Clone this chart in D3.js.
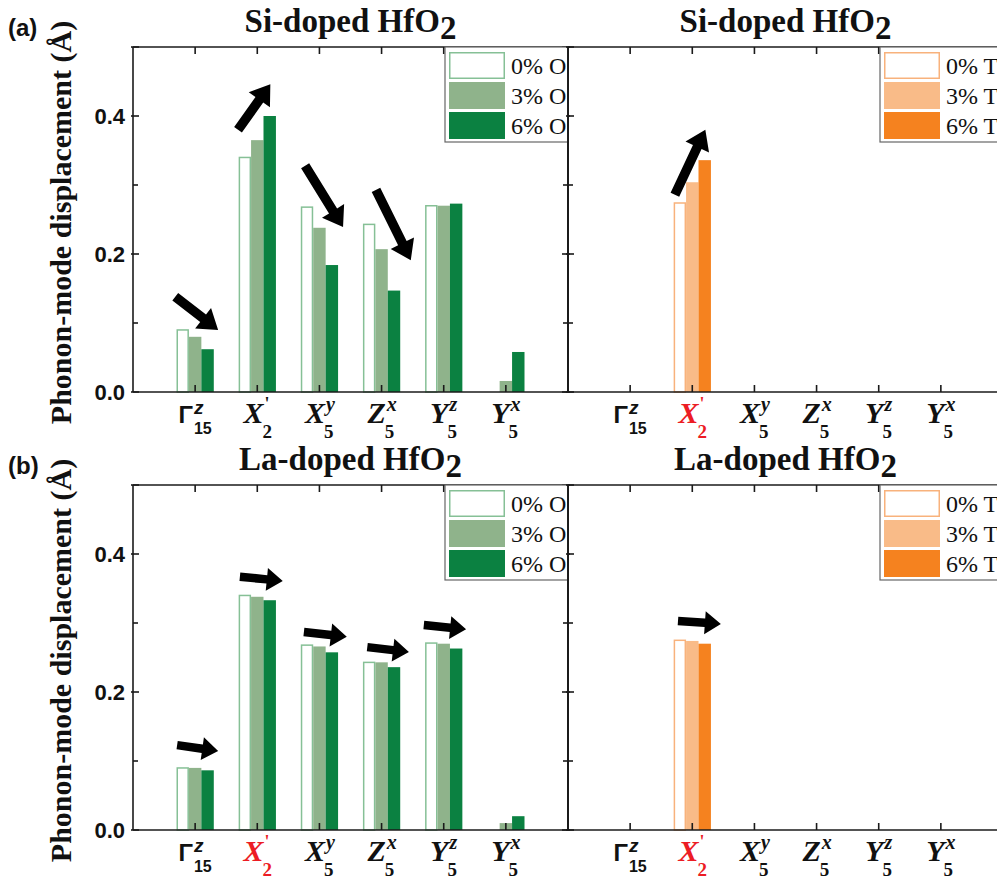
<!DOCTYPE html>
<html>
<head>
<meta charset="utf-8">
<script src="https://cdn.jsdelivr.net/npm/d3@7"></script>
<style>
  html, body { margin: 0; padding: 0; background: #fff; }
  svg { display: block; }
</style>
</head>
<body>
<script>
// ---------- DATA ----------
const modeMain = ["Γ", "X", "X", "Z", "Y", "Y"];
const modeSup  = ["z", "'", "y", "x", "z", "x"];
const modeSub  = ["15", "2", "5", "5", "5", "5"];
const seriesLabels = ["0%", "3%", "6%"];
const yTicks = [0, 0.2, 0.4];
const yMinorTicks = [0.1, 0.3];

// Si-doped, O-series (values per series: 0%, 3%, 6%)
const siO_0 = [0.091, 0.341, 0.269, 0.244, 0.271, 0.0];
const siO_3 = [0.080, 0.365, 0.238, 0.207, 0.270, 0.016];
const siO_6 = [0.062, 0.400, 0.184, 0.147, 0.273, 0.058];
// Si-doped, T-series
const siT_0 = [0, 0.275, 0, 0, 0, 0];
const siT_3 = [0, 0.304, 0, 0, 0, 0];
const siT_6 = [0, 0.336, 0, 0, 0, 0];
// La-doped, O-series
const laO_0 = [0.091, 0.341, 0.269, 0.244, 0.272, 0.0];
const laO_3 = [0.090, 0.338, 0.266, 0.243, 0.270, 0.010];
const laO_6 = [0.0865, 0.333, 0.2575, 0.236, 0.263, 0.020];
// La-doped, T-series
const laT_0 = [0, 0.276, 0, 0, 0, 0];
const laT_3 = [0, 0.274, 0, 0, 0, 0];
const laT_6 = [0, 0.270, 0, 0, 0, 0];

// Arrow annotations: [x1, y1, x2, y2] in data units (category axis, Å)
const arrowsSiO = [[0.68, 0.138, 1.37, 0.090], [1.69, 0.380, 2.21, 0.446], [2.77, 0.328, 3.38, 0.239], [3.91, 0.293, 4.47, 0.191]];
const arrowsSiT = [[1.72, 0.286, 2.21, 0.380]];
const arrowsLaO = [[0.71, 0.123, 1.37, 0.1145], [1.72, 0.367, 2.41, 0.361], [2.75, 0.287, 3.44, 0.280], [3.77, 0.265, 4.44, 0.258], [4.68, 0.297, 5.36, 0.291]];
const arrowsLaT = [[1.77, 0.303, 2.46, 0.2986]];

const greenColors = { stroke0: "#86c096", fill3: "#8fb38b", fill6: "#0b8141" };
const orangeColors = { stroke0: "#f8b27c", fill3: "#f9bb88", fill6: "#f5821f" };

// ---------- LAYOUT ----------
const W = 997, H = 882;
const PW = 435, PH = 345;
const panels = [
  { left: 133, top: 47, title: "Si-doped HfO", vals: [siO_0, siO_3, siO_6], suffix: "O", col: greenColors, arrows: arrowsSiO, redX: false, yLabels: true },
  { left: 568, top: 47, title: "Si-doped HfO", vals: [siT_0, siT_3, siT_6], suffix: "T", col: orangeColors, arrows: arrowsSiT, redX: true, yLabels: false },
  { left: 133, top: 485, title: "La-doped HfO", vals: [laO_0, laO_3, laO_6], suffix: "O", col: greenColors, arrows: arrowsLaO, redX: true, yLabels: true },
  { left: 568, top: 485, title: "La-doped HfO", vals: [laT_0, laT_3, laT_6], suffix: "T", col: orangeColors, arrows: arrowsLaT, redX: true, yLabels: false }
];

const svg = d3.select("body").append("svg").attr("width", W).attr("height", H);
svg.append("rect").attr("width", W).attr("height", H).attr("fill", "#fff");

const AX = "#1a1a1a";
const serif = "'Liberation Serif', 'Times New Roman', serif";
const sans = "'Liberation Sans', Arial, sans-serif";

function arrowPath(x1, y1, x2, y2, shaftW, headL, headW) {
  const dx = x2 - x1, dy = y2 - y1;
  const L = Math.hypot(dx, dy);
  const ux = dx / L, uy = dy / L;
  const px = -uy, py = ux;
  const bx = x2 - ux * headL, by = y2 - uy * headL;
  const pts = [
    [x1 + px * shaftW / 2, y1 + py * shaftW / 2],
    [bx + px * shaftW / 2, by + py * shaftW / 2],
    [bx + px * headW / 2, by + py * headW / 2],
    [x2, y2],
    [bx - px * headW / 2, by - py * headW / 2],
    [bx - px * shaftW / 2, by - py * shaftW / 2],
    [x1 - px * shaftW / 2, y1 - py * shaftW / 2]
  ];
  return "M" + pts.map(p => p[0].toFixed(2) + "," + p[1].toFixed(2)).join("L") + "Z";
}

panels.forEach((p, pi) => {
  const x = d3.scaleLinear().domain([0, 7]).range([p.left, p.left + PW]);
  const y = d3.scaleLinear().domain([0, 0.5]).range([p.top + PH, p.top]);
  const g = svg.append("g");

  // bars
  const fills = ["#fff", p.col.fill3, p.col.fill6];
  p.vals.forEach((arr, s) => {
    arr.forEach((v, i) => {
      if (v <= 0) return;
      const xc = i + 1 + (s - 1) * 0.2;
      const x0 = x(xc - 0.1), x1 = x(xc + 0.1);
      if (s === 0) {
        g.append("rect")
          .attr("x", x0 + 0.75).attr("y", y(v) + 0.75)
          .attr("width", x1 - x0 - 1.5).attr("height", y(0) - y(v) - 0.75)
          .attr("fill", "#fff").attr("stroke", p.col.stroke0).attr("stroke-width", 1.5);
      } else {
        g.append("rect")
          .attr("x", x0).attr("y", y(v))
          .attr("width", x1 - x0).attr("height", y(0) - y(v))
          .attr("fill", fills[s]);
      }
    });
  });

  // frame
  const fr = g.append("g").attr("stroke", AX).attr("stroke-width", 1.6).attr("fill", "none");
  fr.append("line").attr("x1", x(0)).attr("x2", x(7)).attr("y1", y(0)).attr("y2", y(0));
  fr.append("line").attr("x1", x(0)).attr("x2", x(7)).attr("y1", y(0.5)).attr("y2", y(0.5));
  fr.append("line").attr("x1", x(0)).attr("x2", x(0)).attr("y1", y(0)).attr("y2", y(0.5));
  fr.append("line").attr("x1", x(7)).attr("x2", x(7)).attr("y1", y(0)).attr("y2", y(0.5));

  // x ticks (inward, bottom and top)
  d3.range(1, 7).forEach(c => {
    fr.append("line").attr("x1", x(c)).attr("x2", x(c)).attr("y1", y(0)).attr("y2", y(0) - 7);
    fr.append("line").attr("x1", x(c)).attr("x2", x(c)).attr("y1", y(0.5)).attr("y2", y(0.5) + 7);
  });
  // y ticks (inward on left and right)
  yTicks.concat([0.5]).forEach(t => {
    fr.append("line").attr("x1", x(0) - 2).attr("x2", x(0) + 6).attr("y1", y(t)).attr("y2", y(t));
    fr.append("line").attr("x1", x(7) + 2).attr("x2", x(7) - 6).attr("y1", y(t)).attr("y2", y(t));
  });
  yMinorTicks.forEach(t => {
    fr.append("line").attr("x1", x(0)).attr("x2", x(0) + 5).attr("y1", y(t)).attr("y2", y(t));
    fr.append("line").attr("x1", x(7)).attr("x2", x(7) - 5).attr("y1", y(t)).attr("y2", y(t));
  });

  // y tick labels
  if (p.yLabels) {
    yTicks.forEach(t => {
      svg.append("text").attr("x", x(0) - 8).attr("y", y(t) + 8)
        .attr("text-anchor", "end").attr("font-family", sans).attr("font-weight", "bold")
        .attr("font-size", 22).attr("fill", "#111").text(d3.format(".1f")(t));
    });
    svg.append("text")
      .attr("transform", `translate(71,${(y(0) + y(0.5)) / 2 + 3}) rotate(-90)`)
      .attr("text-anchor", "middle").attr("font-family", serif).attr("font-weight", "bold")
      .attr("font-size", 30).attr("fill", "#111").text("Phonon-mode displacement (Å)");
  }

  // x tick labels
  modeMain.forEach((m, i) => {
    const color = (i === 1 && p.redX) ? "#ec1c24" : "#111";
    const lg = svg.append("g").attr("fill", color);
    const isG = (m === "Γ");
    const mt = lg.append("text").attr("x", 0).attr("y", 0).text(m)
      .attr("font-family", isG ? sans : serif).attr("font-weight", "bold")
      .attr("font-style", isG ? "normal" : "italic").attr("font-size", isG ? 24 : 30);
    const w = mt.node().getComputedTextLength();
    const isPrime = modeSup[i] === "'";
    lg.append("text").attr("x", w + 1).attr("y", isG ? -9 : (isPrime ? -13 : -12)).text(modeSup[i])
      .attr("font-family", isG ? sans : serif).attr("font-weight", "bold")
      .attr("font-style", isPrime ? "normal" : "italic").attr("font-size", isG ? 19 : (isPrime ? 18 : 20));
    lg.append("text").attr("x", w + (isG ? 1 : -1)).attr("y", isG ? 11 : 15).text(modeSub[i])
      .attr("font-family", isG ? sans : serif).attr("font-weight", "bold")
      .attr("font-size", isG ? 16 : 19);
    const bb = lg.node().getBBox();
    lg.attr("transform", `translate(${x(i + 1) - bb.x - bb.width / 2},${y(0) + 31})`);
  });

  // title
  const tt = svg.append("text").attr("x", p.left + PW / 2).attr("y", p.top - 15)
    .attr("text-anchor", "middle").attr("font-family", serif).attr("font-weight", "bold")
    .attr("font-size", 33).attr("fill", "#111");
  tt.append("tspan").text(p.title);
  tt.append("tspan").attr("dy", 7).text("2");

  // legend
  const lgd = svg.append("g");
  const bx = p.left + 312, by = p.top;
  lgd.append("rect").attr("x", bx).attr("y", by).attr("width", PW - 312).attr("height", 95)
    .attr("fill", "#fff").attr("stroke", "#666").attr("stroke-width", 1.2);
  seriesLabels.forEach((lab, s) => {
    const sy = by + 5 + s * 30;
    if (s === 0) {
      lgd.append("rect").attr("x", bx + 4.75).attr("y", sy + 0.75).attr("width", 54.5).attr("height", 25.5)
        .attr("fill", "#fff").attr("stroke", p.col.stroke0).attr("stroke-width", 1.5);
    } else {
      lgd.append("rect").attr("x", bx + 4).attr("y", sy).attr("width", 56).attr("height", 27)
        .attr("fill", fills[s]);
    }
    lgd.append("text").attr("x", bx + 66).attr("y", sy + 22)
      .attr("font-family", serif).attr("font-size", 24).attr("fill", "#111")
      .text(lab + " " + p.suffix);
  });
  // redraw shared border line so it sits above legend
  svg.append("line").attr("x1", x(7)).attr("x2", x(7)).attr("y1", y(0)).attr("y2", y(0.5))
    .attr("stroke", AX).attr("stroke-width", 1.6);

  // arrows
  p.arrows.forEach(a => {
    const X1 = x(a[0]), Y1 = y(a[1]), X2 = x(a[2]), Y2 = y(a[3]);
    const vertical = Math.abs(Y2 - Y1) > Math.abs(X2 - X1) * 0.3;
    svg.append("path").attr("d", arrowPath(X1, Y1, X2, Y2, vertical ? 9.5 : 8.5, vertical ? 19 : 16, vertical ? 26 : 23))
      .attr("fill", "#000");
  });
});

// panel letters
svg.append("text").attr("x", 8).attr("y", 36).attr("font-family", sans).attr("font-weight", "bold")
  .attr("font-size", 24).attr("fill", "#111").text("(a)");
svg.append("text").attr("x", 8).attr("y", 474).attr("font-family", sans).attr("font-weight", "bold")
  .attr("font-size", 24).attr("fill", "#111").text("(b)");
</script>
</body>
</html>
